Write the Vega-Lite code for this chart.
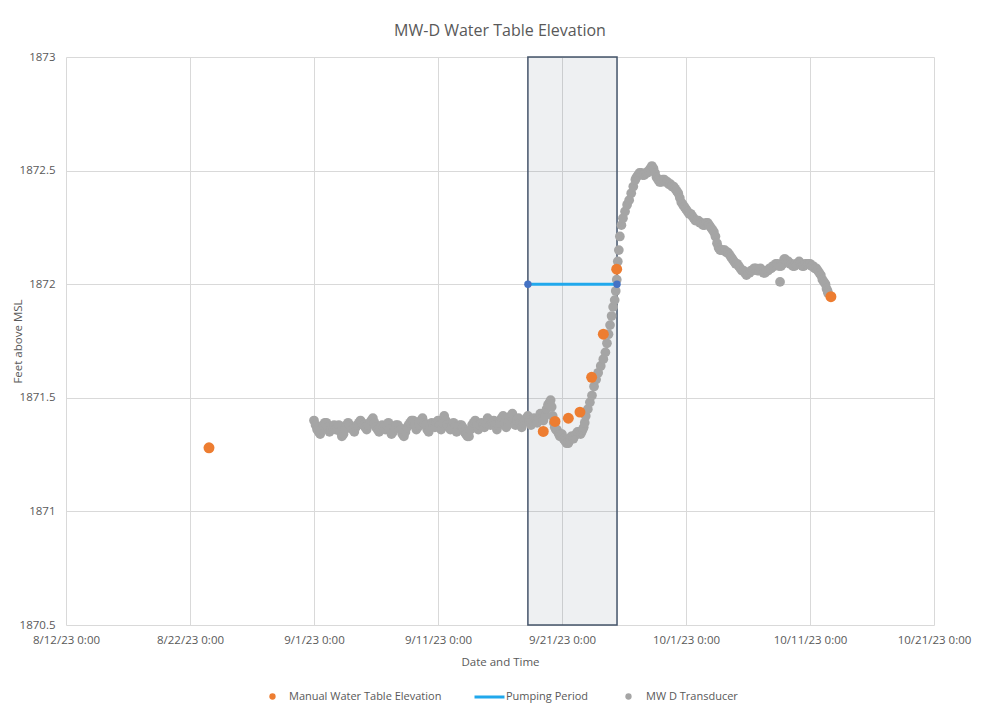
{
  "$schema": "https://vega.github.io/schema/vega-lite/v6.json",
  "width": 868,
  "height": 568,
  "autosize": {"type": "none"},
  "padding": {"left": 66, "top": 57, "right": 51, "bottom": 89},
  "background": "white",
  "title": {"text": "MW-D Water Table Elevation", "fontSize": 16, "font": "Open Sans", "fontWeight": "normal", "color": "#595959", "offset": 12, "anchor": "middle"},
  "config": {
    "font": "Open Sans",
    "view": {"stroke": null},
    "axis": {"labelColor": "#595959", "titleColor": "#595959", "labelFontSize": 11.5, "titleFontSize": 11.5, "titleFontWeight": "normal", "gridColor": "#D9D9D9", "gridWidth": 1, "domain": false, "ticks": false, "labelFont": "Open Sans", "titleFont": "Open Sans"},
    "legend": {"labelFont": "Open Sans", "labelFontSize": 11, "labelColor": "#595959", "title": null, "padding": 0, "orient": "none"}
  },
  "datasets": {
    "transducer": [
      {"t": "2023-09-01T00:00", "v": 1871.40}, {"t": "2023-09-01T03:00", "v": 1871.38}, {"t": "2023-09-01T06:00", "v": 1871.36}, {"t": "2023-09-01T09:00", "v": 1871.35}, {"t": "2023-09-01T12:00", "v": 1871.34}, {"t": "2023-09-01T15:00", "v": 1871.36}, {"t": "2023-09-01T18:00", "v": 1871.38}, {"t": "2023-09-01T21:00", "v": 1871.39},
      {"t": "2023-09-02T00:00", "v": 1871.39}, {"t": "2023-09-02T03:00", "v": 1871.37}, {"t": "2023-09-02T06:00", "v": 1871.35}, {"t": "2023-09-02T09:00", "v": 1871.36}, {"t": "2023-09-02T12:00", "v": 1871.37}, {"t": "2023-09-02T15:00", "v": 1871.38}, {"t": "2023-09-02T18:00", "v": 1871.36}, {"t": "2023-09-02T21:00", "v": 1871.37},
      {"t": "2023-09-03T00:00", "v": 1871.38}, {"t": "2023-09-03T03:00", "v": 1871.35}, {"t": "2023-09-03T06:00", "v": 1871.33}, {"t": "2023-09-03T09:00", "v": 1871.34}, {"t": "2023-09-03T12:00", "v": 1871.36}, {"t": "2023-09-03T15:00", "v": 1871.38}, {"t": "2023-09-03T18:00", "v": 1871.39}, {"t": "2023-09-03T21:00", "v": 1871.38},
      {"t": "2023-09-04T00:00", "v": 1871.37}, {"t": "2023-09-04T03:00", "v": 1871.36}, {"t": "2023-09-04T06:00", "v": 1871.35}, {"t": "2023-09-04T09:00", "v": 1871.37}, {"t": "2023-09-04T12:00", "v": 1871.38}, {"t": "2023-09-04T15:00", "v": 1871.39}, {"t": "2023-09-04T18:00", "v": 1871.40}, {"t": "2023-09-04T21:00", "v": 1871.39},
      {"t": "2023-09-05T00:00", "v": 1871.38}, {"t": "2023-09-05T03:00", "v": 1871.37}, {"t": "2023-09-05T06:00", "v": 1871.36}, {"t": "2023-09-05T09:00", "v": 1871.38}, {"t": "2023-09-05T12:00", "v": 1871.39}, {"t": "2023-09-05T15:00", "v": 1871.40}, {"t": "2023-09-05T18:00", "v": 1871.41}, {"t": "2023-09-05T21:00", "v": 1871.39},
      {"t": "2023-09-06T00:00", "v": 1871.37}, {"t": "2023-09-06T03:00", "v": 1871.36}, {"t": "2023-09-06T06:00", "v": 1871.35}, {"t": "2023-09-06T09:00", "v": 1871.37}, {"t": "2023-09-06T12:00", "v": 1871.38}, {"t": "2023-09-06T15:00", "v": 1871.37}, {"t": "2023-09-06T18:00", "v": 1871.36}, {"t": "2023-09-06T21:00", "v": 1871.38},
      {"t": "2023-09-07T00:00", "v": 1871.39}, {"t": "2023-09-07T03:00", "v": 1871.36}, {"t": "2023-09-07T06:00", "v": 1871.34}, {"t": "2023-09-07T09:00", "v": 1871.35}, {"t": "2023-09-07T12:00", "v": 1871.37}, {"t": "2023-09-07T15:00", "v": 1871.38}, {"t": "2023-09-07T18:00", "v": 1871.38}, {"t": "2023-09-07T21:00", "v": 1871.37},
      {"t": "2023-09-08T00:00", "v": 1871.36}, {"t": "2023-09-08T03:00", "v": 1871.34}, {"t": "2023-09-08T06:00", "v": 1871.33}, {"t": "2023-09-08T09:00", "v": 1871.35}, {"t": "2023-09-08T12:00", "v": 1871.37}, {"t": "2023-09-08T15:00", "v": 1871.38}, {"t": "2023-09-08T18:00", "v": 1871.39}, {"t": "2023-09-08T21:00", "v": 1871.40},
      {"t": "2023-09-09T00:00", "v": 1871.40}, {"t": "2023-09-09T03:00", "v": 1871.38}, {"t": "2023-09-09T06:00", "v": 1871.36}, {"t": "2023-09-09T09:00", "v": 1871.37}, {"t": "2023-09-09T12:00", "v": 1871.38}, {"t": "2023-09-09T15:00", "v": 1871.40}, {"t": "2023-09-09T18:00", "v": 1871.41}, {"t": "2023-09-09T21:00", "v": 1871.39},
      {"t": "2023-09-10T00:00", "v": 1871.38}, {"t": "2023-09-10T03:00", "v": 1871.36}, {"t": "2023-09-10T06:00", "v": 1871.35}, {"t": "2023-09-10T09:00", "v": 1871.37}, {"t": "2023-09-10T12:00", "v": 1871.39}, {"t": "2023-09-10T15:00", "v": 1871.38}, {"t": "2023-09-10T18:00", "v": 1871.37}, {"t": "2023-09-10T21:00", "v": 1871.39},
      {"t": "2023-09-11T00:00", "v": 1871.40}, {"t": "2023-09-11T03:00", "v": 1871.38}, {"t": "2023-09-11T06:00", "v": 1871.36}, {"t": "2023-09-11T09:00", "v": 1871.39}, {"t": "2023-09-11T12:00", "v": 1871.42}, {"t": "2023-09-11T15:00", "v": 1871.40}, {"t": "2023-09-11T18:00", "v": 1871.38}, {"t": "2023-09-11T21:00", "v": 1871.37},
      {"t": "2023-09-12T00:00", "v": 1871.36}, {"t": "2023-09-12T03:00", "v": 1871.38}, {"t": "2023-09-12T06:00", "v": 1871.39}, {"t": "2023-09-12T09:00", "v": 1871.37}, {"t": "2023-09-12T12:00", "v": 1871.35}, {"t": "2023-09-12T15:00", "v": 1871.36}, {"t": "2023-09-12T18:00", "v": 1871.38}, {"t": "2023-09-12T21:00", "v": 1871.38},
      {"t": "2023-09-13T00:00", "v": 1871.37}, {"t": "2023-09-13T03:00", "v": 1871.35}, {"t": "2023-09-13T06:00", "v": 1871.34}, {"t": "2023-09-13T09:00", "v": 1871.33}, {"t": "2023-09-13T12:00", "v": 1871.33}, {"t": "2023-09-13T15:00", "v": 1871.36}, {"t": "2023-09-13T18:00", "v": 1871.38}, {"t": "2023-09-13T21:00", "v": 1871.39},
      {"t": "2023-09-14T00:00", "v": 1871.40}, {"t": "2023-09-14T03:00", "v": 1871.38}, {"t": "2023-09-14T06:00", "v": 1871.36}, {"t": "2023-09-14T09:00", "v": 1871.38}, {"t": "2023-09-14T12:00", "v": 1871.39}, {"t": "2023-09-14T15:00", "v": 1871.38}, {"t": "2023-09-14T18:00", "v": 1871.37}, {"t": "2023-09-14T21:00", "v": 1871.39},
      {"t": "2023-09-15T00:00", "v": 1871.41}, {"t": "2023-09-15T03:00", "v": 1871.40}, {"t": "2023-09-15T06:00", "v": 1871.38}, {"t": "2023-09-15T09:00", "v": 1871.39}, {"t": "2023-09-15T12:00", "v": 1871.40}, {"t": "2023-09-15T15:00", "v": 1871.38}, {"t": "2023-09-15T18:00", "v": 1871.36}, {"t": "2023-09-15T21:00", "v": 1871.38},
      {"t": "2023-09-16T00:00", "v": 1871.39}, {"t": "2023-09-16T03:00", "v": 1871.41}, {"t": "2023-09-16T06:00", "v": 1871.42}, {"t": "2023-09-16T09:00", "v": 1871.39}, {"t": "2023-09-16T12:00", "v": 1871.37}, {"t": "2023-09-16T15:00", "v": 1871.38}, {"t": "2023-09-16T18:00", "v": 1871.40}, {"t": "2023-09-16T21:00", "v": 1871.42},
      {"t": "2023-09-17T00:00", "v": 1871.43}, {"t": "2023-09-17T03:00", "v": 1871.40}, {"t": "2023-09-17T06:00", "v": 1871.38}, {"t": "2023-09-17T09:00", "v": 1871.40}, {"t": "2023-09-17T12:00", "v": 1871.41}, {"t": "2023-09-17T15:00", "v": 1871.39}, {"t": "2023-09-17T18:00", "v": 1871.37}, {"t": "2023-09-17T21:00", "v": 1871.39},
      {"t": "2023-09-18T00:00", "v": 1871.40}, {"t": "2023-09-18T03:00", "v": 1871.41}, {"t": "2023-09-18T06:00", "v": 1871.42}, {"t": "2023-09-18T09:00", "v": 1871.40}, {"t": "2023-09-18T12:00", "v": 1871.38}, {"t": "2023-09-18T15:00", "v": 1871.40}, {"t": "2023-09-18T18:00", "v": 1871.41}, {"t": "2023-09-18T21:00", "v": 1871.40},
      {"t": "2023-09-19T00:00", "v": 1871.39}, {"t": "2023-09-19T03:00", "v": 1871.41}, {"t": "2023-09-19T06:00", "v": 1871.43}, {"t": "2023-09-19T09:00", "v": 1871.41}, {"t": "2023-09-19T12:00", "v": 1871.40}, {"t": "2023-09-19T15:00", "v": 1871.42}, {"t": "2023-09-19T18:00", "v": 1871.45}, {"t": "2023-09-19T21:00", "v": 1871.47},
      {"t": "2023-09-20T00:00", "v": 1871.48}, {"t": "2023-09-20T02:00", "v": 1871.49}, {"t": "2023-09-20T04:00", "v": 1871.46}, {"t": "2023-09-20T06:00", "v": 1871.42}, {"t": "2023-09-20T08:00", "v": 1871.39}, {"t": "2023-09-20T10:00", "v": 1871.37}, {"t": "2023-09-20T12:00", "v": 1871.36}, {"t": "2023-09-20T14:00", "v": 1871.36}, {"t": "2023-09-20T16:00", "v": 1871.35}, {"t": "2023-09-20T18:00", "v": 1871.34}, {"t": "2023-09-20T20:00", "v": 1871.33}, {"t": "2023-09-20T22:00", "v": 1871.34},
      {"t": "2023-09-21T00:00", "v": 1871.34}, {"t": "2023-09-21T03:00", "v": 1871.32}, {"t": "2023-09-21T06:00", "v": 1871.31}, {"t": "2023-09-21T09:00", "v": 1871.30}, {"t": "2023-09-21T12:00", "v": 1871.30}, {"t": "2023-09-21T14:00", "v": 1871.31}, {"t": "2023-09-21T16:00", "v": 1871.32}, {"t": "2023-09-21T18:00", "v": 1871.33}, {"t": "2023-09-21T20:00", "v": 1871.33}, {"t": "2023-09-21T22:00", "v": 1871.32},
      {"t": "2023-09-22T00:00", "v": 1871.33}, {"t": "2023-09-22T03:00", "v": 1871.34}, {"t": "2023-09-22T06:00", "v": 1871.35}, {"t": "2023-09-22T09:00", "v": 1871.35}, {"t": "2023-09-22T12:00", "v": 1871.34}, {"t": "2023-09-22T14:00", "v": 1871.35}, {"t": "2023-09-22T16:00", "v": 1871.36}, {"t": "2023-09-22T18:00", "v": 1871.37}, {"t": "2023-09-22T20:00", "v": 1871.39}, {"t": "2023-09-22T22:00", "v": 1871.42},
      {"t": "2023-09-23T02:00", "v": 1871.45}, {"t": "2023-09-23T06:00", "v": 1871.48}, {"t": "2023-09-23T10:00", "v": 1871.51}, {"t": "2023-09-23T14:00", "v": 1871.55}, {"t": "2023-09-23T18:00", "v": 1871.58}, {"t": "2023-09-23T22:00", "v": 1871.61},
      {"t": "2023-09-24T03:00", "v": 1871.64}, {"t": "2023-09-24T08:00", "v": 1871.67}, {"t": "2023-09-24T12:00", "v": 1871.70}, {"t": "2023-09-24T15:00", "v": 1871.74}, {"t": "2023-09-24T18:00", "v": 1871.78}, {"t": "2023-09-24T21:00", "v": 1871.82},
      {"t": "2023-09-25T00:00", "v": 1871.86}, {"t": "2023-09-25T03:00", "v": 1871.90}, {"t": "2023-09-25T06:00", "v": 1871.93}, {"t": "2023-09-25T08:00", "v": 1871.97}, {"t": "2023-09-25T10:00", "v": 1872.02}, {"t": "2023-09-25T12:00", "v": 1872.10}, {"t": "2023-09-25T14:00", "v": 1872.15}, {"t": "2023-09-25T16:00", "v": 1872.21}, {"t": "2023-09-25T19:00", "v": 1872.26}, {"t": "2023-09-25T22:00", "v": 1872.29},
      {"t": "2023-09-26T02:00", "v": 1872.32}, {"t": "2023-09-26T06:00", "v": 1872.35}, {"t": "2023-09-26T10:00", "v": 1872.37}, {"t": "2023-09-26T14:00", "v": 1872.40}, {"t": "2023-09-26T18:00", "v": 1872.43}, {"t": "2023-09-26T22:00", "v": 1872.46},
      {"t": "2023-09-27T00:00", "v": 1872.47}, {"t": "2023-09-27T03:00", "v": 1872.48}, {"t": "2023-09-27T06:00", "v": 1872.49}, {"t": "2023-09-27T09:00", "v": 1872.49}, {"t": "2023-09-27T12:00", "v": 1872.48}, {"t": "2023-09-27T15:00", "v": 1872.48}, {"t": "2023-09-27T18:00", "v": 1872.49}, {"t": "2023-09-27T21:00", "v": 1872.49},
      {"t": "2023-09-28T00:00", "v": 1872.50}, {"t": "2023-09-28T03:00", "v": 1872.51}, {"t": "2023-09-28T06:00", "v": 1872.52}, {"t": "2023-09-28T09:00", "v": 1872.51}, {"t": "2023-09-28T12:00", "v": 1872.49}, {"t": "2023-09-28T15:00", "v": 1872.47}, {"t": "2023-09-28T18:00", "v": 1872.46}, {"t": "2023-09-28T21:00", "v": 1872.45},
      {"t": "2023-09-29T00:00", "v": 1872.45}, {"t": "2023-09-29T03:00", "v": 1872.46}, {"t": "2023-09-29T06:00", "v": 1872.46}, {"t": "2023-09-29T09:00", "v": 1872.45}, {"t": "2023-09-29T12:00", "v": 1872.45}, {"t": "2023-09-29T15:00", "v": 1872.44}, {"t": "2023-09-29T18:00", "v": 1872.44}, {"t": "2023-09-29T21:00", "v": 1872.43},
      {"t": "2023-09-30T00:00", "v": 1872.43}, {"t": "2023-09-30T03:00", "v": 1872.42}, {"t": "2023-09-30T06:00", "v": 1872.41}, {"t": "2023-09-30T09:00", "v": 1872.40}, {"t": "2023-09-30T12:00", "v": 1872.38}, {"t": "2023-09-30T15:00", "v": 1872.36}, {"t": "2023-09-30T18:00", "v": 1872.35}, {"t": "2023-09-30T21:00", "v": 1872.34},
      {"t": "2023-10-01T00:00", "v": 1872.33}, {"t": "2023-10-01T03:00", "v": 1872.32}, {"t": "2023-10-01T06:00", "v": 1872.31}, {"t": "2023-10-01T09:00", "v": 1872.31}, {"t": "2023-10-01T12:00", "v": 1872.30}, {"t": "2023-10-01T15:00", "v": 1872.29}, {"t": "2023-10-01T18:00", "v": 1872.28}, {"t": "2023-10-01T21:00", "v": 1872.28},
      {"t": "2023-10-02T00:00", "v": 1872.28}, {"t": "2023-10-02T03:00", "v": 1872.27}, {"t": "2023-10-02T06:00", "v": 1872.27}, {"t": "2023-10-02T09:00", "v": 1872.26}, {"t": "2023-10-02T12:00", "v": 1872.26}, {"t": "2023-10-02T15:00", "v": 1872.27}, {"t": "2023-10-02T18:00", "v": 1872.27}, {"t": "2023-10-02T21:00", "v": 1872.26},
      {"t": "2023-10-03T00:00", "v": 1872.25}, {"t": "2023-10-03T03:00", "v": 1872.24}, {"t": "2023-10-03T06:00", "v": 1872.23}, {"t": "2023-10-03T09:00", "v": 1872.21}, {"t": "2023-10-03T12:00", "v": 1872.18}, {"t": "2023-10-03T15:00", "v": 1872.16}, {"t": "2023-10-03T18:00", "v": 1872.15}, {"t": "2023-10-03T21:00", "v": 1872.15},
      {"t": "2023-10-04T00:00", "v": 1872.15}, {"t": "2023-10-04T03:00", "v": 1872.15}, {"t": "2023-10-04T06:00", "v": 1872.14}, {"t": "2023-10-04T09:00", "v": 1872.14}, {"t": "2023-10-04T12:00", "v": 1872.13}, {"t": "2023-10-04T15:00", "v": 1872.12}, {"t": "2023-10-04T18:00", "v": 1872.11}, {"t": "2023-10-04T21:00", "v": 1872.10},
      {"t": "2023-10-05T00:00", "v": 1872.09}, {"t": "2023-10-05T03:00", "v": 1872.09}, {"t": "2023-10-05T06:00", "v": 1872.08}, {"t": "2023-10-05T09:00", "v": 1872.07}, {"t": "2023-10-05T12:00", "v": 1872.06}, {"t": "2023-10-05T15:00", "v": 1872.06}, {"t": "2023-10-05T18:00", "v": 1872.05}, {"t": "2023-10-05T21:00", "v": 1872.04},
      {"t": "2023-10-06T00:00", "v": 1872.05}, {"t": "2023-10-06T03:00", "v": 1872.05}, {"t": "2023-10-06T06:00", "v": 1872.06}, {"t": "2023-10-06T09:00", "v": 1872.06}, {"t": "2023-10-06T12:00", "v": 1872.07}, {"t": "2023-10-06T15:00", "v": 1872.07}, {"t": "2023-10-06T18:00", "v": 1872.06}, {"t": "2023-10-06T21:00", "v": 1872.06},
      {"t": "2023-10-07T00:00", "v": 1872.07}, {"t": "2023-10-07T03:00", "v": 1872.06}, {"t": "2023-10-07T06:00", "v": 1872.05}, {"t": "2023-10-07T09:00", "v": 1872.05}, {"t": "2023-10-07T12:00", "v": 1872.06}, {"t": "2023-10-07T15:00", "v": 1872.06}, {"t": "2023-10-07T18:00", "v": 1872.07}, {"t": "2023-10-07T21:00", "v": 1872.07},
      {"t": "2023-10-08T00:00", "v": 1872.08}, {"t": "2023-10-08T03:00", "v": 1872.08}, {"t": "2023-10-08T06:00", "v": 1872.09}, {"t": "2023-10-08T09:00", "v": 1872.09}, {"t": "2023-10-08T12:00", "v": 1872.08}, {"t": "2023-10-08T14:00", "v": 1872.01}, {"t": "2023-10-08T16:00", "v": 1872.08}, {"t": "2023-10-08T19:00", "v": 1872.09}, {"t": "2023-10-08T22:00", "v": 1872.11},
      {"t": "2023-10-09T00:00", "v": 1872.11}, {"t": "2023-10-09T03:00", "v": 1872.10}, {"t": "2023-10-09T06:00", "v": 1872.10}, {"t": "2023-10-09T09:00", "v": 1872.09}, {"t": "2023-10-09T12:00", "v": 1872.09}, {"t": "2023-10-09T15:00", "v": 1872.08}, {"t": "2023-10-09T18:00", "v": 1872.08}, {"t": "2023-10-09T21:00", "v": 1872.09},
      {"t": "2023-10-10T00:00", "v": 1872.09}, {"t": "2023-10-10T03:00", "v": 1872.10}, {"t": "2023-10-10T06:00", "v": 1872.09}, {"t": "2023-10-10T09:00", "v": 1872.08}, {"t": "2023-10-10T12:00", "v": 1872.08}, {"t": "2023-10-10T15:00", "v": 1872.09}, {"t": "2023-10-10T18:00", "v": 1872.09}, {"t": "2023-10-10T21:00", "v": 1872.09},
      {"t": "2023-10-11T00:00", "v": 1872.09}, {"t": "2023-10-11T03:00", "v": 1872.08}, {"t": "2023-10-11T06:00", "v": 1872.08}, {"t": "2023-10-11T09:00", "v": 1872.07}, {"t": "2023-10-11T12:00", "v": 1872.07}, {"t": "2023-10-11T15:00", "v": 1872.06}, {"t": "2023-10-11T18:00", "v": 1872.05}, {"t": "2023-10-11T21:00", "v": 1872.04},
      {"t": "2023-10-12T00:00", "v": 1872.02}, {"t": "2023-10-12T03:00", "v": 1872.01}, {"t": "2023-10-12T06:00", "v": 1872.00}, {"t": "2023-10-12T08:00", "v": 1871.98}, {"t": "2023-10-12T10:00", "v": 1871.97}, {"t": "2023-10-12T11:00", "v": 1871.96}
    ],
    "manual": [
      {"t": "2023-08-23T12:45", "v": 1871.28},
      {"t": "2023-09-19T11:45", "v": 1871.352},
      {"t": "2023-09-20T10:30", "v": 1871.396},
      {"t": "2023-09-21T12:15", "v": 1871.41},
      {"t": "2023-09-22T10:45", "v": 1871.437},
      {"t": "2023-09-23T09:20", "v": 1871.59},
      {"t": "2023-09-24T08:00", "v": 1871.78},
      {"t": "2023-09-25T09:50", "v": 1872.066},
      {"t": "2023-10-12T16:30", "v": 1871.945}
    ],
    "pumping": [
      {"t": "2023-09-18T06:00", "v": 1872},
      {"t": "2023-09-25T10:30", "v": 1872}
    ],
    "pumpwin": [
      {"start": "2023-09-18T06:00", "end": "2023-09-25T10:30", "lo": 1870.5, "hi": 1873}
    ]
  },
  "encoding": {
    "x": {
      "field": "t", "type": "temporal", "title": "Date and Time",
      "scale": {"domain": [{"year": 2023, "month": 8, "date": 12}, {"year": 2023, "month": 10, "date": 21}]},
      "axis": {
        "values": [{"year": 2023, "month": 8, "date": 12}, {"year": 2023, "month": 8, "date": 22}, {"year": 2023, "month": 9, "date": 1}, {"year": 2023, "month": 9, "date": 11}, {"year": 2023, "month": 9, "date": 21}, {"year": 2023, "month": 10, "date": 1}, {"year": 2023, "month": 10, "date": 11}, {"year": 2023, "month": 10, "date": 21}],
        "format": "%-m/%-d/%y %-H:%M", "labelPadding": 9, "labelFlush": false, "labelOverlap": false,
        "titleY": 37, "titleBaseline": "middle"
      }
    },
    "y": {
      "field": "v", "type": "quantitative", "title": "Feet above MSL",
      "scale": {"domain": [1870.5, 1873], "nice": false, "zero": false},
      "axis": {"values": [1870.5, 1871, 1871.5, 1872, 1872.5, 1873], "format": "~f", "labelPadding": 11, "titleX": -48, "titleBaseline": "middle", "titleAngle": -90}
    }
  },
  "layer": [
    {
      "data": {"name": "pumpwin", "format": {"parse": {"start": "date", "end": "date"}}},
      "mark": {"type": "rect", "fill": "#44546A", "fillOpacity": 0.09, "stroke": "#44546A", "strokeWidth": 1.5},
      "encoding": {
        "x": {"field": "start", "type": "temporal", "title": "Date and Time"},
        "x2": {"field": "end"},
        "y": {"field": "lo", "type": "quantitative", "title": "Feet above MSL"},
        "y2": {"field": "hi"}
      }
    },
    {
      "data": {"name": "transducer"},
      "mark": {"type": "point", "filled": true, "size": 95, "opacity": 1, "color": "#A5A5A5"},
      "encoding": {
        "shape": {
          "datum": "MW D Transducer", "type": "nominal",
          "scale": {"range": ["circle"]},
          "legend": {"orient": "none", "legendX": 557, "legendY": 634, "symbolSize": 40, "labelOffset": 12}
        }
      }
    },
    {
      "data": {"name": "manual"},
      "mark": {"type": "point", "filled": true, "size": 120, "opacity": 1},
      "encoding": {
        "color": {
          "datum": "Manual Water Table Elevation", "type": "nominal",
          "scale": {"range": ["#ED7D31"]},
          "legend": {"orient": "none", "legendX": 201, "legendY": 634, "symbolSize": 40, "labelOffset": 11}
        }
      }
    },
    {
      "data": {"name": "pumping"},
      "layer": [
        {
          "mark": {"type": "line", "strokeWidth": 3, "color": "#20A8EC"},
          "encoding": {
            "strokeDash": {
              "datum": "Pumping Period", "type": "nominal",
              "scale": {"range": [[1, 0]]},
              "legend": {"orient": "none", "legendX": 407, "legendY": 623.5, "symbolSize": 900, "symbolType": "stroke", "symbolStrokeWidth": 3, "symbolStrokeColor": "#20A8EC", "labelOffset": 0}
            }
          }
        },
        {"mark": {"type": "point", "filled": true, "size": 55, "opacity": 1, "color": "#4472C4"}, "encoding": {}}
      ]
    }
  ]
}
